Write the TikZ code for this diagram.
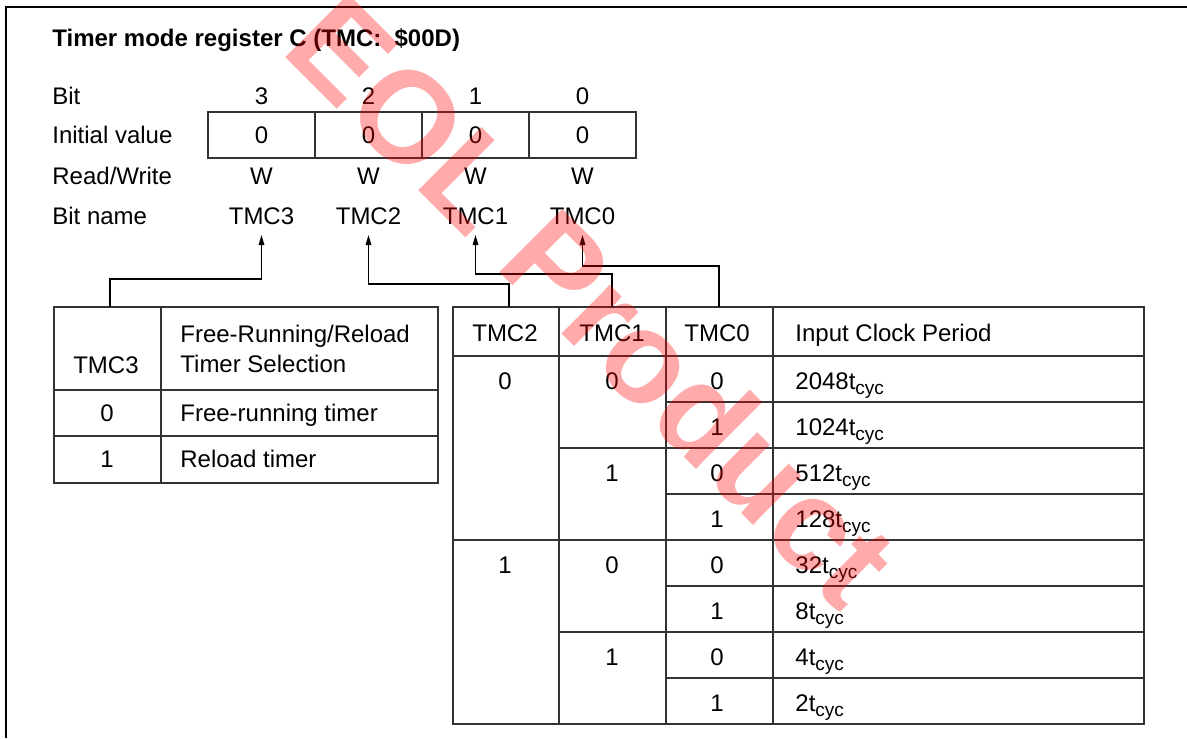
\documentclass[tikz,border=0pt]{standalone}
\usepackage{fontspec}
\setmainfont{Liberation Sans}
\usetikzlibrary{arrows.meta}
\definecolor{gridline}{gray}{0.2}
\definecolor{eolred}{RGB}{255, 0, 0}
\newcommand{\tcyc}{\raisebox{-2.6pt}{\fontsize{9.5}{10}\selectfont cyc}}

\begin{document}
\begin{tikzpicture}[x=0.5pt, y=-0.5pt, font=\fontsize{12}{14}\selectfont,
		lbl/.style={inner sep=0pt, text height=8.6pt, text depth=0pt},
		grid/.style={gridline, line width=0.75pt},
		link/.style={black, line width=0.6pt, -{Triangle[length=5pt, width=2.8pt]}}]
	\def\cw{107}
	\def\rh{46}
	\useasboundingbox (0,0) rectangle (1187,738);

	% frame
	\draw[black, line width=1pt] (6,738) -- (6,7) -- (1187,7);

	% --- title and row labels ---
	\node[lbl, anchor=west, font=\fontsize{12}{14}\selectfont\bfseries] (title) at (52,38) {Timer mode register C (TMC: \ \$00D)};
	\node[lbl, anchor=west] (lbit) at (52,96) {Bit};
	\node[lbl, anchor=west] (linit) at (52,135) {Initial value};
	\node[lbl, anchor=west] (lrw) at (52,176) {Read/Write};
	\node[lbl, anchor=west] (lname) at (52,216) {Bit name};

	% register cells
	\draw[grid] (208,112) rectangle (208+4*\cw,158);
	\foreach \i in {1,2,3} {
		\draw[grid] (208+\i*\cw,112) -- (208+\i*\cw,158);
	}
	\foreach \b [count=\i from 0] in {3,2,1,0} {
		\node[lbl] (b\b) at (208+\cw/2+\i*\cw, 96) {\b};
		\node[lbl] (v\b) at (208+\cw/2+\i*\cw, 135) {0};
		\node[lbl] (w\b) at (208+\cw/2+\i*\cw, 176) {W};
		\node[lbl] (n\b) at (208+\cw/2+\i*\cw, 216) {TMC\b};
	}

	% --- TMC3 table ---
	\draw[grid] (54,307) rectangle (438,483);
	\draw[grid] (161,307) -- (161,483);
	\draw[grid] (54,390) -- (438,390);
	\draw[grid] (54,436) -- (438,436);

	\node[lbl] (m3) at (106,365) {TMC3};
	\node[lbl, anchor=west] (mtitle) at (180,334) {Free-Running/Reload};
	\node[lbl, anchor=west] (mtitleb) at (180,364) {Timer Selection};
	\node[lbl] (m0) at (107,413) {0};
	\node[lbl, anchor=west] (mfree) at (180,413) {Free-running timer};
	\node[lbl] (m1) at (107,459) {1};
	\node[lbl, anchor=west] (mrel) at (180,459) {Reload timer};

	% --- clock select table ---
	\draw[grid] (453,307) rectangle (1144,724);
	\foreach \x in {559,666,773} {
		\draw[grid] (\x,307) -- (\x,724);
	}
	\draw[grid] (453,356) -- (1144,356);
	\draw[grid] (453,540) -- (1144,540);
	\foreach \y in {448,632} {
		\draw[grid] (559,\y) -- (1144,\y);
	}
	\foreach \y in {402,494,586,678} {
		\draw[grid] (666,\y) -- (1144,\y);
	}

	\node[lbl] (h2) at (505,333) {TMC2};
	\node[lbl] (h1) at (612,333) {TMC1};
	\node[lbl] (h0) at (717,333) {TMC0};
	\node[lbl, anchor=west] (hp) at (795,333) {Input Clock Period};

	\node[lbl] (c2a) at (505,381) {0};
	\node[lbl] (c2b) at (505,381+4*\rh) {1};
	\foreach \s [count=\k from 0] in {0,1,0,1} {
		\node[lbl] (c1\k) at (612,381+2*\k*\rh) {\s};
	}
	\foreach \p/\s [count=\k from 0] in {2048/0,1024/1,512/0,128/1,32/0,8/1,4/0,2/1} {
		\node[lbl] (c0\k) at (717,381+\k*\rh) {\s};
		\node[lbl, anchor=west] (p\k) at (795,381+\k*\rh) {\p t\tcyc};
	}

	% --- connectors to bit names ---
	\coordinate (t3) at (110,307);
	\coordinate (t2) at (509,307);
	\coordinate (t1) at (612,307);
	\coordinate (t0) at (719,307);
	\draw[link] (t3) -- ++(0,-28) -| ([yshift=-5pt]n3.south);
	\draw[link] (t2) -- ++(0,-23) -| ([yshift=-5pt]n2.south);
	\draw[link] (t1) -- ++(0,-33) -| ([yshift=-5pt]n1.south);
	\draw[link] (t0) -- ++(0,-41) -| ([yshift=-5pt]n0.south);

	% watermark
	\node[text=eolred, text opacity=0.33, rotate=-45, inner sep=0pt, text height=46.5pt, text depth=0pt,
		font=\fontsize{65}{65}\selectfont\bfseries] (eol) at (593,300) {EOL Product};

\end{tikzpicture}
\end{document}
